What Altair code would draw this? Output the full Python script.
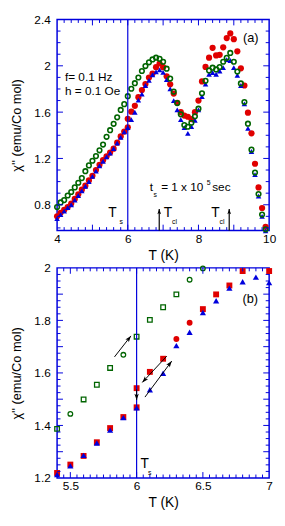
import altair as alt
import pandas as pd
import numpy as np

# ---------------- data, panel (a) ----------------
T_a = [4.0, 4.1, 4.2, 4.3, 4.4, 4.5, 4.6, 4.7, 4.8, 4.9,
       5.0, 5.1, 5.2, 5.3, 5.4, 5.5, 5.6, 5.7, 5.8, 5.9,
       6.0, 6.1, 6.2, 6.3, 6.4, 6.5, 6.6, 6.7, 6.8, 6.9,
       7.0, 7.1, 7.2, 7.3, 7.4, 7.5, 7.6, 7.7, 7.8, 7.9,
       8.0, 8.1, 8.2, 8.3, 8.4, 8.5, 8.6, 8.7, 8.8, 8.9,
       9.0, 9.1, 9.2, 9.3, 9.4, 9.5, 9.6, 9.7, 9.8, 9.9]
red_a = [0.70, 0.73, 0.755, 0.78, 0.81, 0.85, 0.89, 0.93, 0.965, 1.01,
         1.05, 1.10, 1.145, 1.185, 1.219, 1.251, 1.284, 1.336, 1.390, 1.432,
         1.469, 1.604, 1.654, 1.729, 1.791, 1.843, 1.899, 1.933, 1.988, 2.02,
         1.988, 1.91, 1.84, 1.76, 1.68, 1.60, 1.57, 1.56, 1.54, 1.60,
         1.70, 1.865, 1.99, 2.07, 2.155, 2.09, 2.095, 2.16, 2.24, 2.28,
         2.23, 2.125, 1.978, 1.83, 1.595, 1.417, 1.154, 0.95, 0.772, 0.61]
red_a_extra_T = [6.0]
red_a_extra = [1.542]
blue_a = [0.68, 0.715, 0.745, 0.775, 0.80, 0.84, 0.88, 0.92, 0.96, 1.00,
          1.045, 1.09, 1.135, 1.175, 1.213, 1.246, 1.286, 1.333, 1.382, 1.430,
          1.467, 1.536, 1.599, 1.704, 1.755, 1.830, 1.875, 1.923, 1.947, 1.965,
          1.944, 1.88, 1.80, 1.70, 1.62, 1.536, 1.466, 1.417, 1.474, 1.53,
          1.62, 1.734, 1.842, 1.927, 1.941, 1.927, 1.955, 1.984, 2.054, 2.046,
          1.984, 1.918, 1.83, 1.672, 1.46, 1.26, 1.06, 0.875, 0.70, 0.575]
green_a = [0.78, 0.82, 0.84, 0.88, 0.91, 0.95, 0.99, 1.03, 1.09, 1.14,
           1.18, 1.22, 1.27, 1.32, 1.387, 1.444, 1.499, 1.555, 1.619, 1.669,
           1.738, 1.802, 1.850, 1.899, 1.955, 1.998, 2.03, 2.055, 2.07, 2.06,
           2.035, 1.975, 1.89, 1.777, 1.678, 1.581, 1.488, 1.474, 1.508, 1.564,
           1.63, 1.763, 1.87, 1.96, 1.984, 1.969, 1.99, 2.035, 2.069, 2.111,
           2.035, 1.95, 1.848, 1.687, 1.50, 1.276, 1.078, 0.893, 0.715, 0.588]

# ---------------- data, panel (b) ----------------
green_b_T = [5.4, 5.5, 5.6, 5.7, 5.8, 5.9, 6.0, 6.1, 6.2, 6.3, 6.4, 6.5]
green_b = [1.387, 1.444, 1.499, 1.555, 1.619, 1.669, 1.738, 1.802, 1.850, 1.899, 1.955, 1.998]
green_b_shape = ["square", "circle", "square", "square", "square", "circle",
                 "square", "square", "square", "square", "circle", "circle"]
red_b_T = [5.4, 5.5, 5.6, 5.7, 5.8, 5.9, 6.0, 6.0, 6.1, 6.2, 6.3, 6.4, 6.5, 6.6, 6.7, 6.8, 7.0]
red_b = [1.219, 1.251, 1.284, 1.336, 1.390, 1.432, 1.469, 1.542, 1.604, 1.654,
         1.729, 1.791, 1.843, 1.899, 1.933, 1.988, 1.988]
red_b_shape = ["square"] * 10 + ["circle", "circle"] + ["square"] * 5
blue_b_T = [5.4, 5.5, 5.6, 5.7, 5.8, 5.9, 6.0, 6.1, 6.2, 6.3, 6.4, 6.5, 6.6, 6.7, 6.8, 6.9, 7.0]
blue_b = [1.213, 1.246, 1.286, 1.333, 1.382, 1.430, 1.467, 1.536, 1.599, 1.704,
          1.755, 1.830, 1.875, 1.923, 1.947, 1.965, 1.944]

# arrows in (b): tail -> tip
arr_T = [5.833, 6.228, 6.063, 6.0]
arr_v = [1.661, 1.664, 1.508, 1.537]
arr_T2 = [5.957, 6.043, 6.265, 6.0]
arr_v2 = [1.741, 1.564, 1.645, 1.497]
arr_angle = [38, 223, 37, 180]

# arrows in (a)
tcl_T = [6.89, 8.87]

BLUE = "#0000dd"
RED = "#e00000"
GREEN = "#006400"
FONT = "Liberation Sans"
W = 216
HA = 215
HB = 214
ARROW = "M0,0 L0.6,1.7 L0,1.3 L-0.6,1.7 Z"


def xaxis(values):
    return alt.Axis(values=values, format=".1~f", ticks=False, domain=False, grid=False,
                    labelFont=FONT, labelFontSize=12, labelColor="black", labelPadding=3,
                    title="T (K)", titleFont=FONT, titleFontSize=14, titleFontWeight="normal",
                    titleColor="black", titlePadding=4, labelFlush=False)


def yaxis(values):
    return alt.Axis(values=values, format=".1~f", ticks=False, domain=False, grid=False,
                    labelFont=FONT, labelFontSize=12, labelColor="black", labelPadding=7,
                    title="χ'' (emu/Co mol)", titleFont=FONT, titleFontSize=13,
                    titleFontWeight="normal", titleColor="black", titlePadding=7,
                    minExtent=27, maxExtent=27, labelFlush=False)


def tick_layers(xvals, xlen, yvals, ylen, H):
    layers = []
    dx = pd.DataFrame({"T": xvals})
    dy = pd.DataFrame({"v": yvals})
    layers.append(alt.Chart(dx).mark_rule(color=BLUE, strokeWidth=1).encode(
        x="T:Q", y=alt.value(H), y2=alt.value(H - xlen)))
    layers.append(alt.Chart(dx).mark_rule(color=BLUE, strokeWidth=1).encode(
        x="T:Q", y=alt.value(0), y2=alt.value(xlen)))
    layers.append(alt.Chart(dy).mark_rule(color=BLUE, strokeWidth=1).encode(
        y="v:Q", x=alt.value(0), x2=alt.value(ylen)))
    layers.append(alt.Chart(dy).mark_rule(color=BLUE, strokeWidth=1).encode(
        y="v:Q", x=alt.value(W), x2=alt.value(W - ylen)))
    return layers


def texts(df, size, align="left"):
    return alt.Chart(df).mark_text(font=FONT, fontSize=size, align=align,
                                   baseline="middle", color="black").encode(
        x="T:Q", y="v:Q", text="label:N")


# ---------------- panel (a) ----------------
xa = alt.X("T:Q", scale=alt.Scale(domain=[4, 10], nice=False, zero=False),
           axis=xaxis([4, 5, 6, 7, 8, 9, 10]))
ya = alt.Y("v:Q", scale=alt.Scale(domain=[0.577, 2.4], nice=False, zero=False),
           axis=yaxis([0.8, 1.2, 1.6, 2.0, 2.4]))

df_red_a = pd.DataFrame({"T": T_a + red_a_extra_T, "v": red_a + red_a_extra})
df_blue_a = pd.DataFrame({"T": T_a, "v": blue_a})
df_green_a = pd.DataFrame({"T": T_a, "v": green_a})

a_layers = []
a_layers.append(alt.Chart(df_red_a).mark_point(shape="circle", filled=True, size=40,
                                               color=RED, opacity=1).encode(x=xa, y=ya))
a_layers.append(alt.Chart(df_blue_a).mark_point(shape="triangle-up", filled=True, size=32,
                                                color=BLUE, opacity=1).encode(x="T:Q", y="v:Q"))
a_layers.append(alt.Chart(df_green_a).mark_point(shape="circle", filled=False, size=22,
                                                 strokeWidth=1.6, color=GREEN, opacity=1).encode(x="T:Q", y="v:Q"))
a_layers.append(alt.Chart(pd.DataFrame({"T": [6.0]})).mark_rule(color=BLUE, strokeWidth=1.2).encode(x="T:Q"))
a_layers += tick_layers([t for t in np.round(np.arange(4.2, 10, 0.2), 1) if abs(t - round(t)) > 1e-6], 3.5,
                        [t for t in np.round(np.arange(0.6, 2.4, 0.1), 1) if t not in (0.8, 1.2, 1.6, 2.0)], 3.5, HA)
a_layers += tick_layers([5, 6, 7, 8, 9], 6, [0.8, 1.2, 1.6, 2.0], 6, HA)
df_tcl = pd.DataFrame({"T": tcl_T, "v": [0.763, 0.763]})
a_layers.append(alt.Chart(df_tcl).mark_rule(color="black", strokeWidth=1.2).encode(
    x="T:Q", y="v:Q", y2=alt.value(HA)))
a_layers.append(alt.Chart(df_tcl).mark_point(shape=ARROW, filled=True, size=40, color="black",
                                             opacity=1).encode(x="T:Q", y="v:Q"))
a_layers.append(texts(pd.DataFrame({"T": [4.222, 4.222], "v": [1.904, 1.78],
                                    "label": ["f= 0.1 Hz", "h = 0.1 Oe"]}), 12))
a_layers.append(texts(pd.DataFrame({"T": [9.48], "v": [2.239], "label": ["(a)"]}), 13, "center"))
a_layers.append(texts(pd.DataFrame({"T": [5.564, 7.139, 8.481], "v": [0.724, 0.724, 0.724],
                                    "label": ["T", "T", "T"]}), 14, "center"))
a_layers.append(texts(pd.DataFrame({"T": [5.814, 7.325, 8.667], "v": [0.647, 0.653, 0.653],
                                    "label": ["s", "cl", "cl"]}), 7, "center"))
a_layers.append(texts(pd.DataFrame({"T": [6.62, 6.944, 8.389], "v": [0.95, 0.95, 0.95],
                                    "label": ["t", "= 1 x 10", "sec"]}), 12, "left"))
a_layers.append(texts(pd.DataFrame({"T": [6.78, 8.29], "v": [0.883, 0.985],
                                    "label": ["s", "5"]}), 7, "center"))

panel_a = alt.layer(*a_layers).properties(width=W, height=HA)

# ---------------- panel (b) ----------------
xb = alt.X("T:Q", scale=alt.Scale(domain=[5.4, 7.0], nice=False, zero=False),
           axis=xaxis([5.5, 6.0, 6.5, 7.0]))
yb = alt.Y("v:Q", scale=alt.Scale(domain=[1.2, 2.0], nice=False, zero=False),
           axis=yaxis([1.2, 1.4, 1.6, 1.8, 2.0]))

df_red_b = pd.DataFrame({"T": red_b_T, "v": red_b, "s": red_b_shape})
df_blue_b = pd.DataFrame({"T": blue_b_T, "v": blue_b})
df_green_b = pd.DataFrame({"T": green_b_T, "v": green_b, "s": green_b_shape})

b_layers = []
b_layers.append(alt.Chart(df_red_b).mark_point(filled=True, size=36, color=RED, opacity=1).encode(
    x=xb, y=yb, shape=alt.Shape("s:N", scale=None)))
b_layers.append(alt.Chart(df_blue_b).mark_point(shape="triangle-up", filled=True, size=40,
                                                color=BLUE, opacity=1).encode(x="T:Q", y="v:Q"))
b_layers.append(alt.Chart(df_green_b).mark_point(filled=False, size=22, strokeWidth=1.3,
                                                 color=GREEN, opacity=1).encode(
    x="T:Q", y="v:Q", shape=alt.Shape("s:N", scale=None)))
b_layers.append(alt.Chart(pd.DataFrame({"T": [6.0]})).mark_rule(color=BLUE, strokeWidth=1.2).encode(x="T:Q"))
b_layers += tick_layers([t for t in np.round(np.arange(5.45, 7.0, 0.05), 2) if abs(t * 2 - round(t * 2)) > 1e-6], 3.5,
                        [t for t in np.round(np.arange(1.225, 2.0, 0.025), 3) if abs(t * 10 - round(t * 10)) > 1e-6], 3.5, HB)
b_layers += tick_layers([5.5, 6.0, 6.5], 6, [1.3, 1.4, 1.5, 1.6, 1.7, 1.8, 1.9], 6, HB)
df_arr = pd.DataFrame({"T": arr_T, "v": arr_v, "T2": arr_T2, "v2": arr_v2, "a": arr_angle})
b_layers.append(alt.Chart(df_arr).mark_rule(color="black", strokeWidth=1).encode(
    x="T:Q", y="v:Q", x2="T2:Q", y2="v2:Q"))
b_layers.append(alt.Chart(df_arr).mark_point(shape=ARROW, filled=True, size=56, color="black",
                                             opacity=1).encode(
    x="T2:Q", y="v2:Q", angle=alt.Angle("a:Q", scale=None)))
b_layers.append(texts(pd.DataFrame({"T": [6.858], "v": [1.882], "label": ["(b)"]}), 13, "center"))
b_layers.append(texts(pd.DataFrame({"T": [6.061], "v": [1.252], "label": ["T"]}), 14, "center"))
b_layers.append(texts(pd.DataFrame({"T": [6.098], "v": [1.219], "label": ["s"]}), 7, "center"))

panel_b = alt.layer(*b_layers).properties(width=W, height=HB)

chart = alt.vconcat(panel_a, panel_b, spacing=38, bounds="flush").properties(
    padding={"left": 2, "top": 0, "right": 0, "bottom": 0},
    background="white",
).configure_view(stroke=BLUE, strokeWidth=1.5)

chart.save("out.html", embed_options={"renderer": "svg", "actions": False})
